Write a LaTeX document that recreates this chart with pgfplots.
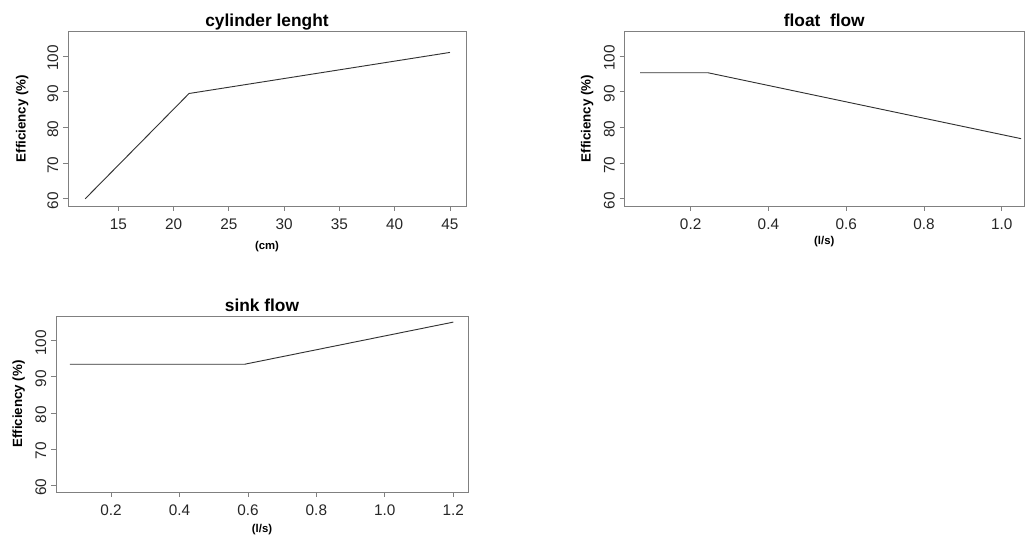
\documentclass[border=0pt]{standalone}
\usepackage{pgfplots}
\pgfplotsset{compat=1.18}
\usepackage{fontspec}
\setmainfont{Liberation Sans}
\definecolor{boxgray}{HTML}{808080}
\definecolor{linegray}{HTML}{333333}
\pgfplotsset{
  rstyle/.style={
    scale only axis,
    anchor=south west,
    axis line style={boxgray, line width=0.6pt},
    tick style={boxgray, line width=0.6pt},
    tick align=outside,
    major tick length=3.75pt,
    xtick pos=bottom, ytick pos=left,
    /pgf/number format/assume math mode=true,
    tick label style={font=\fontsize{11.5}{13}\selectfont, text=black!85},
    yticklabel style={rotate=90, anchor=south, xshift=-1.5pt},
    xticklabel style={anchor=north, yshift=-2.5pt},
    ymin=58, ymax=107,
    ytick={60,70,80,90,100},
    title style={font=\bfseries\fontsize{13}{15}\selectfont, at={(axis description cs:0.5,1)}, anchor=base, yshift=-3pt},
    ylabel={Efficiency (\%)},
    ylabel style={font=\bfseries\fontsize{10}{12}\selectfont, anchor=center},
    xlabel style={font=\bfseries\fontsize{8.5}{10}\selectfont, anchor=center},
  }
}
\begin{document}
\begin{tikzpicture}
\useasboundingbox (0,0) rectangle (769.5pt,401.25pt);
% Panel 1: cylinder lenght
\begin{axis}[rstyle,
  at={(51pt,246.75pt)}, width=298.5pt, height=131.25pt,
  xmin=10.45, xmax=46.45,
  xtick={15,20,25,30,35,40,45},
  title={cylinder lenght},
  xlabel={(cm)},
  xlabel style={at={(axis description cs:0.5,0)}, yshift=-30.5pt},
  ylabel style={at={(axis description cs:-0.115,0.5)}},
]
\addplot[linegray, line width=0.7pt] coordinates {(12,60) (21.4,89.5) (45,101)};
\end{axis}
% Panel 2: float flow
\begin{axis}[rstyle,
  at={(468.4pt,246.75pt)}, width=299.6pt, height=131.25pt,
  xmin=0.03, xmax=1.0574,
  xtick={0.2,0.4,0.6,0.8,1.0},
  xticklabel={\pgfmathprintnumber[fixed,fixed zerofill,precision=1]{\tick}},
  title={float\ \ flow},
  xlabel={(l/s)},
  xlabel style={at={(axis description cs:0.5,0)}, yshift=-27pt},
  ylabel style={at={(axis description cs:-0.0935,0.5)}},
]
\addplot[linegray, line width=0.7pt] coordinates {(0.07,95.3) (0.245,95.3) (1.05,76.85)};
\end{axis}
% Panel 3: sink flow
\begin{axis}[rstyle,
  at={(42pt,32.25pt)}, width=309pt, height=132pt,
  xmin=0.0393, xmax=1.243,
  ymin=58.06, ymax=106.9,
  xtick={0.2,0.4,0.6,0.8,1.0,1.2},
  xticklabel={\pgfmathprintnumber[fixed,fixed zerofill,precision=1]{\tick}},
  title={sink flow},
  xlabel={(l/s)},
  xlabel style={at={(axis description cs:0.5,0)}, yshift=-28.5pt},
  ylabel style={at={(axis description cs:-0.0906,0.5)}},
]
\addplot[linegray, line width=0.7pt] coordinates {(0.08,93.5) (0.59,93.5) (1.2,105.2)};
\end{axis}
\end{tikzpicture}
\end{document}
